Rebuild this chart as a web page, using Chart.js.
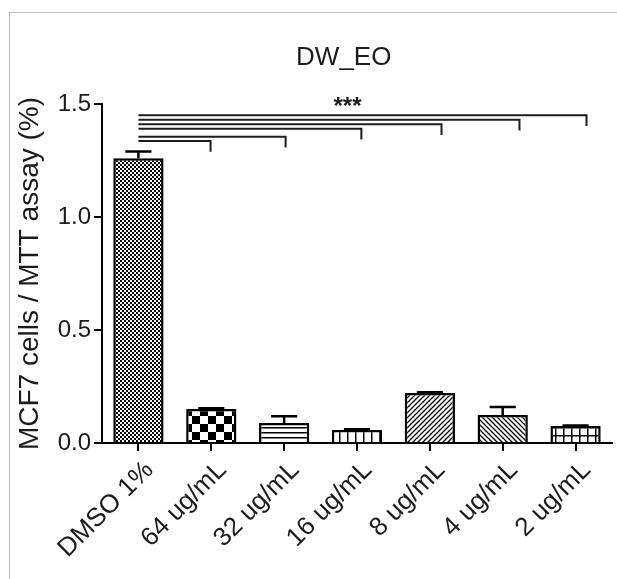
<!DOCTYPE html>
<html>
<head>
<meta charset="utf-8">
<script src="https://cdn.jsdelivr.net/npm/chart.js@4/dist/chart.umd.min.js"></script>
<style>
  html, body { margin: 0; padding: 0; background: #fff; }
  #wrap { position: relative; width: 617px; height: 579px; overflow: hidden; }
  #frame { position: absolute; left: 9px; top: 12px; right: -2px; bottom: -2px;
           border-left: 1.5px solid #bdbdbd; border-top: 1.5px solid #bdbdbd; }
  canvas { position: absolute; left: 0; top: 0; }
</style>
</head>
<body>
<div id="wrap">
  <div id="frame"></div>
  <canvas id="chart" width="617" height="579"></canvas>
</div>
<script>
// chart values
const categories = ["DMSO 1%", "64 ug/mL", "32 ug/mL", "16 ug/mL", "8 ug/mL", "4 ug/mL", "2 ug/mL"];
const means = [1.26, 0.15, 0.088, 0.058, 0.221, 0.124, 0.075];
const errors = [0.03, 0.004, 0.03, 0.003, 0.004, 0.035, 0.002];
const patternNames = ["fineChecker", "checker", "hLines", "vLines", "diagUp", "diagDown", "grid"];
const yTicks = [0.0, 0.5, 1.0, 1.5];

// significance brackets from DMSO (index 0) to each treatment
const bracketEnds = [0.99, 2.02, 3.06, 4.16, 5.23, 6.15];
const bracketLevels = [1.336, 1.355, 1.39, 1.41, 1.43, 1.45];
const bracketDrop = 0.047;
const starsLabel = "***";
const starsPos = [2.87, 1.505];
const chartTitle = "DW_EO";
const yTitle = "MCF7 cells / MTT assay (%)";

const FONT = "'Liberation Sans', Arial, sans-serif";
const INK = "#1c1c1c";

function makePattern(name) {
  const tiles = { fineChecker: 4, checker: 16, hLines: 5, vLines: 8, diagUp: 5, diagDown: 5, grid: 8 };
  const s = tiles[name];
  const c = document.createElement("canvas");
  c.width = s;
  c.height = s;
  const g = c.getContext("2d");
  g.fillStyle = "#fff";
  g.fillRect(0, 0, s, s);
  g.fillStyle = "#000";
  g.strokeStyle = "#000";
  g.lineWidth = 1.3;
  if (name === "fineChecker") {
    g.fillRect(0, 0, 2, 2);
    g.fillRect(2, 2, 2, 2);
  } else if (name === "checker") {
    g.fillRect(0, 0, 8, 8);
    g.fillRect(8, 8, 8, 8);
  } else if (name === "hLines") {
    g.fillRect(0, 2, s, 1.5);
  } else if (name === "vLines") {
    g.fillRect(3, 0, 1.5, s);
  } else if (name === "grid") {
    g.fillRect(3, 0, 1.5, s);
    g.fillRect(0, 3, s, 1.5);
  } else if (name === "diagUp") {
    g.beginPath();
    g.moveTo(0, s); g.lineTo(s, 0);
    g.moveTo(-1, 1); g.lineTo(1, -1);
    g.moveTo(s - 1, s + 1); g.lineTo(s + 1, s - 1);
    g.stroke();
  } else if (name === "diagDown") {
    g.beginPath();
    g.moveTo(0, 0); g.lineTo(s, s);
    g.moveTo(-1, s - 1); g.lineTo(1, s + 1);
    g.moveTo(s - 1, -1); g.lineTo(s + 1, 1);
    g.stroke();
  }
  const ctx = document.getElementById("chart").getContext("2d");
  return ctx.createPattern(c, "repeat");
}

const errorBars = {
  id: "errorBars",
  afterDatasetsDraw(chart) {
    const { ctx, scales: { y } } = chart;
    const meta = chart.getDatasetMeta(0);
    ctx.save();
    ctx.strokeStyle = "#000";
    ctx.lineWidth = 2.5;
    meta.data.forEach((bar, i) => {
      const top = y.getPixelForValue(means[i] + errors[i]);
      const half = bar.width * 0.26;
      ctx.beginPath();
      ctx.moveTo(bar.x, bar.y);
      ctx.lineTo(bar.x, top);
      ctx.moveTo(bar.x - half, top);
      ctx.lineTo(bar.x + half, top);
      ctx.stroke();
    });
    ctx.restore();
  }
};

const brackets = {
  id: "brackets",
  afterDraw(chart) {
    const { ctx, scales: { x, y }, chartArea } = chart;
    ctx.save();
    ctx.strokeStyle = INK;
    ctx.lineWidth = 2;
    const x0 = x.getPixelForValue(0);
    bracketEnds.forEach((end, k) => {
      const yy = y.getPixelForValue(bracketLevels[k]);
      const x1 = x.getPixelForValue(end);
      ctx.beginPath();
      ctx.moveTo(x0, yy);
      ctx.lineTo(x1, yy);
      ctx.lineTo(x1, y.getPixelForValue(bracketLevels[k] - bracketDrop));
      ctx.stroke();
    });
    ctx.fillStyle = INK;
    ctx.textAlign = "center";
    ctx.textBaseline = "middle";
    ctx.font = "bold 24px " + FONT;
    ctx.fillText(starsLabel, x.getPixelForValue(starsPos[0]), y.getPixelForValue(starsPos[1]) + 5);

    ctx.font = "26px " + FONT;
    ctx.fillText(chartTitle, chartArea.left + (chartArea.right - chartArea.left) * 0.474, 58);
    ctx.restore();
  }
};

new Chart(document.getElementById("chart"), {
  type: "bar",
  data: {
    labels: categories,
    datasets: [{
      data: means,
      backgroundColor: patternNames.map(makePattern),
      borderColor: "#000",
      borderWidth: 2.5,
      borderSkipped: "bottom",
      categoryPercentage: 1,
      barPercentage: 0.69
    }]
  },
  options: {
    responsive: false,
    animation: false,
    layout: { padding: { top: 104, right: 5, left: 0, bottom: 0 } },
    plugins: {
      legend: { display: false },
      tooltip: { enabled: false }
    },
    scales: {
      x: {
        offset: true,
        grid: { offset: false, drawOnChartArea: false, drawTicks: true, tickLength: 8, color: "#000", lineWidth: 2 },
        border: { display: true, color: "#000", width: 2 },
        ticks: { minRotation: 45, maxRotation: 45, color: INK, padding: 4, labelOffset: 11, font: { family: FONT, size: 26 } },
        afterFit(scale) { scale.height = 136; }
      },
      y: {
        min: 0,
        max: 1.5,
        grid: { drawOnChartArea: false, drawTicks: true, tickLength: 8, color: "#000", lineWidth: 2 },
        border: { display: true, color: "#000", width: 2 },
        ticks: { color: INK, padding: 3, font: { family: FONT, size: 24 }, callback: v => Number(v).toFixed(1) },
        afterBuildTicks(scale) { scale.ticks = yTicks.map(v => ({ value: v })); },
        title: { display: true, text: yTitle, color: INK, padding: { top: 13, bottom: 0 }, font: { family: FONT, size: 28 } },
        afterFit(scale) { scale.width = 102; }
      }
    }
  },
  plugins: [errorBars, brackets]
});
</script>
</body>
</html>
